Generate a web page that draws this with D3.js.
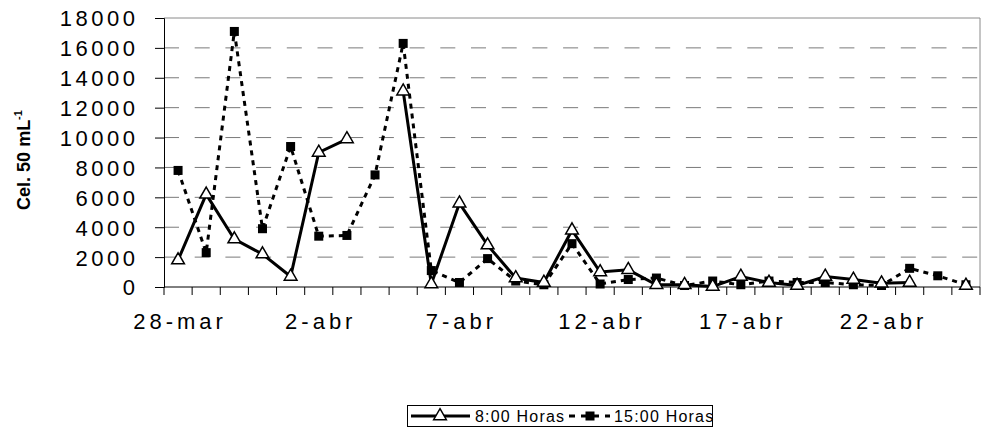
<!DOCTYPE html>
<html>
<head>
<meta charset="utf-8">
<script src="https://cdn.jsdelivr.net/npm/d3@7"></script>
<style>
  html, body { margin: 0; padding: 0; background: #fff; }
  svg { display: block; }
  text { font-family: "Liberation Sans", Arial, sans-serif; fill: #000; }
</style>
</head>
<body>
<svg id="chart" width="981" height="437"></svg>
<script>
// ---- data ----
const categories = ["28-mar","29-mar","30-mar","31-mar","1-abr","2-abr","3-abr","4-abr","5-abr","6-abr",
  "7-abr","8-abr","9-abr","10-abr","11-abr","12-abr","13-abr","14-abr","15-abr","16-abr",
  "17-abr","18-abr","19-abr","20-abr","21-abr","22-abr","23-abr","24-abr","25-abr"];
const tickLabels = ["28-mar","2-abr","7-abr","12-abr","17-abr","22-abr"];
const yTicks = [0,2000,4000,6000,8000,10000,12000,14000,16000,18000];
const seriesNames = ["8:00 Horas","15:00 Horas"];
const h8 = [1800, 6200, 3200, 2200, 700, 9000, 9900, null, 13100, 200,
  5600, 2800, 600, 300, 3800, 1000, 1150, 150, 150, 30,
  700, 300, 100, 700, 500, 250, 300, null, 100];
const h15 = [7800, 2300, 17100, 3900, 9400, 3400, 3450, 7500, 16300, 1100,
  300, 1900, 400, 150, 2900, 200, 500, 600, 100, 400,
  150, 400, 300, 300, 150, 100, 1250, 750, 150];

// ---- layout ----
const svg = d3.select("#chart");
const L = 164, R = 980, T = 18, B = 287;

const x = d3.scaleBand().domain(categories).range([L, R]).padding(0);
const y = d3.scaleLinear().domain([0, 18000]).range([B, T]);

// gridlines (dashed)
svg.append("g").selectAll("line")
  .data(yTicks.filter(v => v > 0 && v < 18000))
  .join("line")
  .attr("x1", L).attr("x2", R)
  .attr("y1", d => y(d)).attr("y2", d => y(d))
  .attr("stroke", "#7a7a7a").attr("stroke-width", 1)
  .attr("stroke-dasharray", "15,15.7");

// plot border top & right
svg.append("line").attr("x1", L).attr("x2", R).attr("y1", T).attr("y2", T)
  .attr("stroke", "#8a8a8a").attr("stroke-width", 1);
svg.append("line").attr("x1", R).attr("x2", R).attr("y1", T).attr("y2", B)
  .attr("stroke", "#8a8a8a").attr("stroke-width", 1);

// y axis
const yAxis = d3.axisLeft(y).tickValues(yTicks).tickSize(9).tickFormat(d3.format("d"));
const gy = svg.append("g").attr("transform", `translate(${L},0)`).call(yAxis);
gy.select(".domain").attr("stroke", "#000");
gy.selectAll(".tick line").attr("stroke", "#000");
gy.selectAll(".tick text")
  .attr("x", -29 + 3.5)
  .style("font-size", "22px")
  .style("letter-spacing", "3.5px")
  .style("font-family", "'Liberation Sans', Arial, sans-serif")
  .attr("dy", "0.36em");

// x axis: ticks at category boundaries
const gx = svg.append("g");
gx.append("line").attr("x1", L).attr("x2", R).attr("y1", B).attr("y2", B).attr("stroke", "#000");
const bounds = categories.map(c => x(c)).concat([R]);
gx.selectAll("line.tk").data(bounds).join("line").attr("class", "tk")
  .attr("x1", d => d).attr("x2", d => d).attr("y1", B).attr("y2", B + 8)
  .attr("stroke", "#000");
gx.selectAll("text").data(tickLabels).join("text")
  .attr("x", d => x(d) + x.bandwidth() / 2 + 2)
  .attr("y", 329)
  .attr("text-anchor", "middle")
  .style("font-size", "22px")
  .style("letter-spacing", "4px")
  .text(d => d);

// y title
const yt = svg.append("text")
  .attr("transform", "translate(30,160) rotate(-90)")
  .attr("text-anchor", "middle")
  .style("font-size", "18px").style("font-weight", "bold");
yt.append("tspan").text("Cel. 50 mL");
yt.append("tspan").attr("dy", -8).style("font-size", "11px").text("-1");

// lines
const cx = i => x(categories[i]) + x.bandwidth() / 2;
const line = d3.line().defined(d => d.v != null).x(d => cx(d.i)).y(d => y(d.v));
const d15 = h15.map((v, i) => ({ i, v }));
const d8 = h8.map((v, i) => ({ i, v }));

svg.append("path").datum(d15).attr("d", line)
  .attr("fill", "none").attr("stroke", "#000").attr("stroke-width", 3)
  .attr("stroke-dasharray", "5,5");
svg.append("path").datum(d8).attr("d", line)
  .attr("fill", "none").attr("stroke", "#000").attr("stroke-width", 3);

// markers
const sq = 9;
svg.append("g").selectAll("rect").data(d15.filter(d => d.v != null)).join("rect")
  .attr("x", d => cx(d.i) - sq / 2).attr("y", d => y(d.v) - sq / 2)
  .attr("width", sq).attr("height", sq).attr("fill", "#000");
const tri = d3.symbol().type(d3.symbolTriangle).size(70);
svg.append("g").selectAll("path").data(d8.filter(d => d.v != null)).join("path")
  .attr("d", tri)
  .attr("transform", d => `translate(${cx(d.i)},${y(d.v)})`)
  .attr("fill", "#fff").attr("stroke", "#000").attr("stroke-width", 1.5);

// legend
const lg = svg.append("g");
lg.append("rect").attr("x", 407.5).attr("y", 405.5).attr("width", 305).attr("height", 21)
  .attr("fill", "#fff").attr("stroke", "#000").attr("stroke-width", 1);
const ly = 416;
lg.append("line").attr("x1", 411).attr("x2", 470).attr("y1", ly).attr("y2", ly)
  .attr("stroke", "#000").attr("stroke-width", 3);
lg.append("path").attr("d", tri).attr("transform", `translate(440,${ly})`)
  .attr("fill", "#fff").attr("stroke", "#000").attr("stroke-width", 1.5);
lg.append("text").attr("x", 475).attr("y", ly + 6).style("font-size", "16px")
  .style("letter-spacing", "1.2px").text(seriesNames[0]);
lg.append("line").attr("x1", 569).attr("x2", 610).attr("y1", ly).attr("y2", ly)
  .attr("stroke", "#000").attr("stroke-width", 3).attr("stroke-dasharray", "6,6");
lg.append("rect").attr("x", 590 - sq / 2).attr("y", ly - sq / 2).attr("width", sq).attr("height", sq)
  .attr("fill", "#000");
lg.append("text").attr("x", 614).attr("y", ly + 6).style("font-size", "16px")
  .style("letter-spacing", "1.2px").text(seriesNames[1]);
</script>
</body>
</html>
